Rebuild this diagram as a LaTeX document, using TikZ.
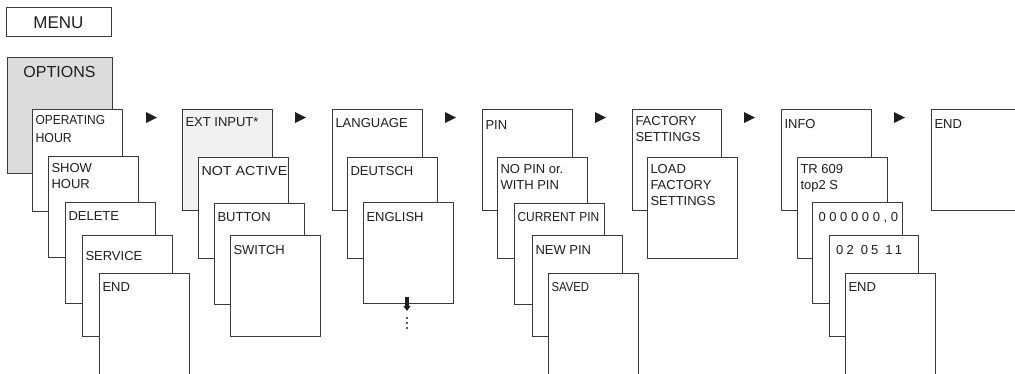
\documentclass[tikz,border=0pt]{standalone}
\usepackage{fontspec}
\usepackage{graphicx}
\setmainfont{Liberation Sans}
\usetikzlibrary{arrows.meta}
\definecolor{optgray}{HTML}{DCDCDC}
\definecolor{extgray}{HTML}{F1F1F1}
\definecolor{edge}{HTML}{3A3A3A}
\definecolor{ink}{HTML}{1E1E1E}
\begin{document}
\begin{tikzpicture}[x=1pt,y=-1pt,
  box/.style={draw=edge, line width=0.9pt, fill=white, rectangle, anchor=north west,
    inner sep=0pt, outer sep=0pt, minimum width=90pt, minimum height=101pt},
  tallbox/.style={box, minimum height=112pt},
  lbl/.style={anchor=north west, inner sep=0pt, outer sep=0pt, align=left,
    font=\fontsize{13}{16}\selectfont, text=ink, execute at begin node=\strut},
  marker/.style={fill=ink}
]
\useasboundingbox (0,0) rectangle (1015,373);
\clip (0,0) rectangle (1015,373);

% MENU
\node[box, minimum width=105pt, minimum height=29pt] (menu) at (6,7) {};
\node[anchor=base, inner sep=0pt, font=\fontsize{17}{20}\selectfont, text=ink] (tmenu) at (58.5,28.3) {MENU};

% OPTIONS column
\node[box, fill=optgray, minimum width=105pt, minimum height=116pt] (opt) at (7,57) {};
\node[anchor=base, inner sep=0pt, font=\fontsize{16}{19}\selectfont, text=ink] (topt) at (59.5,77.3) {OPTIONS};
\node[box, minimum height=102pt] (oph) at (32,109) {};
\node[lbl] (toph) at ([shift={(3.5,6.4)}]oph.north west) {\scalebox{0.92}[1]{OPERATING}\\[1.7pt]\scalebox{0.95}[1]{HOUR}};
\node[box] (shh) at (48,156) {};
\node[lbl] (tshh) at ([shift={(3.5,7.3)}]shh.north west) {SHOW\\HOUR};
\node[box] (del) at (65,202) {};
\node[lbl] (tdel) at ([shift={(3.5,7.3)}]del.north west) {DELETE};
\node[box] (ser) at (82,235) {};
\node[lbl] (tser) at ([shift={(3.5,13.8)}]ser.north west) {SERVICE};
\node[tallbox] (endA) at (99,273) {};
\node[lbl] (tendA) at ([shift={(3.5,7.3)}]endA.north west) {END};

% EXT INPUT column
\node[box, fill=extgray] (ext) at (182,109) {};
\node[lbl] (text) at ([shift={(3.5,6.3)}]ext.north west) {EXT INPUT*};
\node[box] (nac) at (198,157) {};
\node[lbl] (tnac) at ([shift={(3.5,7.3)}]nac.north west) {\scalebox{1.1}[1]{NOT ACTIVE}};
\node[box] (btn) at (214,203) {};
\node[lbl] (tbtn) at ([shift={(3.5,7.3)}]btn.north west) {BUTTON};
\node[box] (swi) at (230,235) {};
\node[lbl] (tswi) at ([shift={(3.5,8.3)}]swi.north west) {SWITCH};

% LANGUAGE column
\node[box] (lan) at (332,109) {};
\node[lbl] (tlan) at ([shift={(3.5,7.6)}]lan.north west) {LANGUAGE};
\node[box] (deu) at (347,157) {};
\node[lbl] (tdeu) at ([shift={(3.5,7.3)}]deu.north west) {DEUTSCH};
\node[box] (eng) at (363,202) {};
\node[lbl] (teng) at ([shift={(3.5,8)}]eng.north west) {ENGLISH};
\coordinate (more) at (407,311);
\draw[ink, line width=3.2pt, -{Triangle[width=7pt,length=5pt]}] ([shift={(-1,-6)}]eng.south) -- (more);
\foreach \yy in {318,323,328} \fill[ink] (407,\yy) circle (1.2);

% PIN column
\node[box] (pin) at (482,109) {};
\node[lbl] (tpin) at ([shift={(3.5,9)}]pin.north west) {PIN};
\node[box] (nop) at (497,157) {};
\node[lbl] (tnop) at ([shift={(3.5,7.3)}]nop.north west) {NO PIN or.\\WITH PIN};
\node[box] (cur) at (514,203) {};
\node[lbl] (tcur) at ([shift={(3.5,7.3)}]cur.north west) {\scalebox{0.92}[1]{CURRENT PIN}};
\node[box] (new) at (532,235) {};
\node[lbl] (tnew) at ([shift={(3.5,8.3)}]new.north west) {NEW PIN};
\node[tallbox] (sav) at (548,273) {};
\node[lbl] (tsav) at ([shift={(3.5,7.3)}]sav.north west) {\scalebox{0.87}[1]{SAVED}};

% FACTORY SETTINGS column
\node[box, minimum width=89pt] (fac) at (632,109) {};
\node[lbl] (tfac) at ([shift={(3.5,7.6)}]fac.north west) {FACTORY\\SETTINGS};
\node[box] (lfs) at (647,157) {};
\node[lbl] (tlfs) at ([shift={(3.5,7.3)}]lfs.north west) {LOAD\\FACTORY\\SETTINGS};

% INFO column
\node[box] (inf) at (781,109) {};
\node[lbl] (tinf) at ([shift={(3.5,8.3)}]inf.north west) {INFO};
\node[box] (trb) at (797,157) {};
\node[lbl] (ttrb) at ([shift={(3.5,7.3)}]trb.north west) {TR 609\\top2 S};
\node[box] (cnt) at (812,202) {};
\node[lbl] (tcnt) at ([shift={(6.5,8.3)}]cnt.north west) {\addfontfeature{LetterSpace=28}000000,0};
\node[box, minimum width=89pt] (dat) at (829,235) {};
\node[lbl] (tdat) at ([shift={(7.2,8.7)}]dat.north west) {\addfontfeature{LetterSpace=25}02 05 11};
\node[tallbox] (endB) at (845,273) {};
\node[lbl] (tendB) at ([shift={(3.5,7.3)}]endB.north west) {END};

% last END
\node[box] (endC) at (931,109) {};
\node[lbl] (tendC) at ([shift={(3.5,8.3)}]endC.north west) {END};

% step markers
\foreach \xx in {146,295,445,595,744,894}
  \fill[marker] (\xx,112) -- (\xx+11,117.5) -- (\xx,123) -- cycle;
\end{tikzpicture}
\end{document}
